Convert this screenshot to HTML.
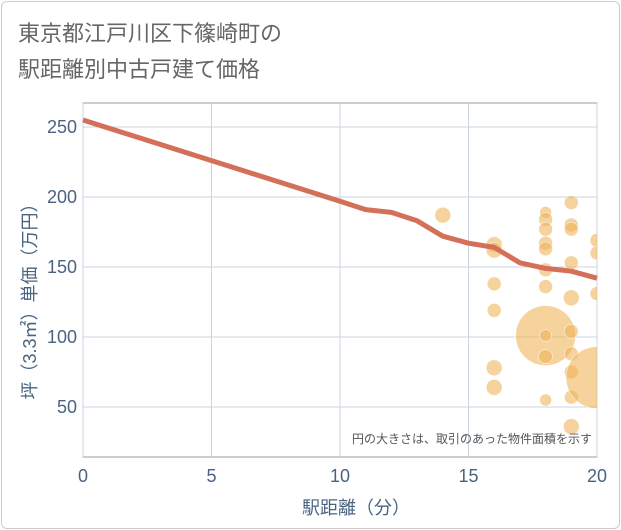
<!DOCTYPE html>
<html><head><meta charset="utf-8"><style>
body{margin:0;background:#fff;font-family:"Liberation Sans","Noto Sans CJK JP",sans-serif}
#card{position:absolute;left:1px;top:1px;width:617px;height:526px;border:1px solid #ccc;border-radius:6px;background:#fff}
</style></head><body>
<div id="card"></div>
<svg id="chart" width="621" height="530" style="position:absolute;left:0;top:0">
<text x="18" y="41" font-size="22" fill="#666">東京都江戸川区下篠崎町の</text>
<text x="18" y="77" font-size="22" fill="#666">駅距離別中古戸建て価格</text>
<rect x="83" y="103" width="514" height="354" fill="#fff" stroke="#999"/>
<g id="grid"></g><g id="pts"></g><g id="ln"></g><g id="ticks"></g>
<text x="592" y="443" font-size="12" fill="#555" text-anchor="end">円の大きさは、取引のあった物件面積を示す</text>
<text x="356" y="514" font-size="18" fill="#4a6380" text-anchor="middle">駅距離（分）</text>
<text transform="translate(36,297) rotate(-90)" font-size="18" fill="#4a6380" text-anchor="middle">坪（3.3㎡）単価（万円）</text>
</svg>
<script>
const xTicks=[0,5,10,15,20];
const yTicks=[50,100,150,200,250];
const lineX=[0,10,11,12,13,14,15,16,17,18,19,20];
const lineY=[255,197,191,189,183,172,167,164,153,149,147,142];
const ptX=[14,16,16,16,16,16,16,18,18,18,18,18,18,18,18,18,18,18,19,19,19,19,19,19,19,19,19,19,20,20,20,20];
const ptY=[187,166,162,138,119,78,64,189,184,177,167,163,148,136,101,101,86,55,196,180,177,153,128,104,88,75,57,36,169,160,131,71];
const ptR=[8,8,8,7,7,8,8,6,7,7,7,7,7,7,30,6,7,6,7,7,7,7,8,7,7,7,7,8,7,7,7,31];
const sx=v=>83+v*25.7, sy=v=>477-v*1.4;
const NS="http://www.w3.org/2000/svg";
const g=id=>document.getElementById(id);
function mk(t,a,p){const e=document.createElementNS(NS,t);for(const k in a)e.setAttribute(k,a[k]);p.appendChild(e);return e;}
xTicks.forEach(v=>{
 const l=mk('line',{x1:sx(v),x2:sx(v),y1:103,y2:457,stroke:'#c8d4e0'},g('grid'));
 
 
 const t=mk('text',{x:sx(v),y:482,'font-size':18,fill:'#4a6380','text-anchor':'middle'},g('ticks'));t.textContent=v;
 
 
});
yTicks.forEach(v=>{
 const l=mk('line',{x1:83,x2:597,y1:sy(v),y2:sy(v),stroke:'#c8d4e0'},g('grid'));
 
 
 const t=mk('text',{x:77,y:sy(v)+6,'font-size':18,fill:'#4a6380','text-anchor':'end'},g('ticks'));t.textContent=v;
 
 
});
const cp=mk('clipPath',{id:'cp'},g('chart'));mk('rect',{x:83,y:103,width:514,height:354},cp);
g('pts').setAttribute('clip-path','url(#cp)');
ptX.forEach((x,i)=>{
 const c=mk('circle',{cx:sx(x),cy:sy(ptY[i]),r:ptR[i],fill:'rgba(240,180,90,0.6)',stroke:'#fff','stroke-width':0.5},g('pts'));
 
 
});
const p=mk('polyline',{points:lineX.map((x,i)=>sx(x)+','+sy(lineY[i])).join(' '),fill:'none',stroke:'#d4705a','stroke-width':5,'stroke-linejoin':'round'},g('ln'));


</script>
</body></html>
